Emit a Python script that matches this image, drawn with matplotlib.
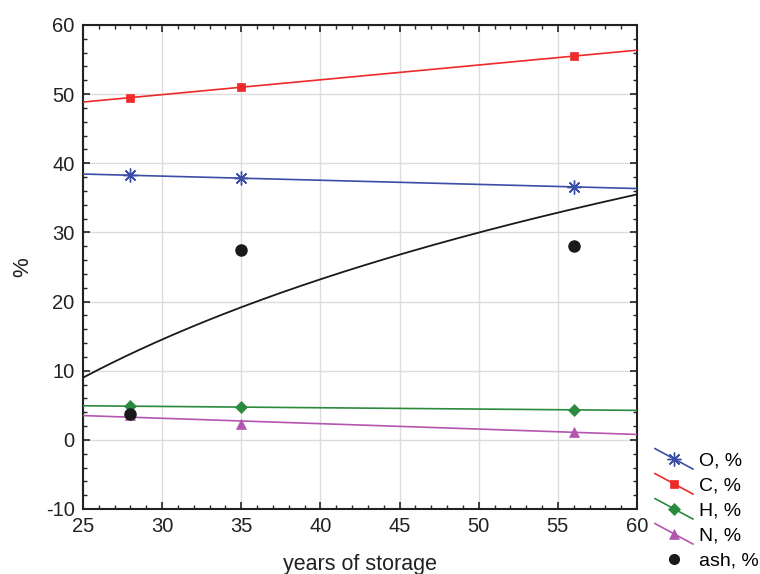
import numpy as np
import matplotlib
matplotlib.use("Agg")
import matplotlib.pyplot as plt
from matplotlib.lines import Line2D
from matplotlib.legend_handler import HandlerLine2D
from matplotlib.ticker import MultipleLocator

plt.rcParams['font.family'] = ['Liberation Sans', 'DejaVu Sans']
plt.rcParams['axes.unicode_minus'] = False

# data
years = [28, 35, 56]
O_vals = [38.3, 37.8, 36.6]
C_vals = [49.5, 51.0, 55.5]
H_vals = [4.9, 4.7, 4.35]
N_vals = [3.6, 2.3, 1.2]
ash_vals = [3.8, 27.4, 28.1]
# logarithmic trend for ash (y = a + b*ln x)
ash_trend_a = -88.44
ash_trend_b = 30.27

labels = ["O, %", "C, %", "H, %", "N, %", "ash, %"]
colors = ["#3b4ea6", "#ee2a2a", "#2b8a3e", "#b455b0", "#1a1a1a"]

fig = plt.figure(figsize=(7.6, 5.74), dpi=100)
ax = fig.add_axes([83/760, 1-509/574, (637-83)/760, (509-25)/574])

xs = np.linspace(25, 60, 200)
series = [O_vals, C_vals, H_vals, N_vals]
markers = [(8, 2, 0), 's', 'D', '^']
msizes = [10, 6, 6, 7]
handles = []
for vals, col, mk, ms, lab in zip(series, colors[:4], markers, msizes, labels[:4]):
    p = np.polyfit(years, vals, 1)
    ax.plot(xs, np.polyval(p, xs), color=col, lw=1.2, zorder=3)
    ax.plot(years, vals, linestyle='None', marker=mk, ms=ms, color=col,
            mec=col, mew=1.0 if mk == (8, 2, 0) else 0.5, zorder=4)
    handles.append(Line2D([], [], color=col, lw=1.2, marker=mk, ms=ms, mec=col,
                          mew=1.0 if mk == (8, 2, 0) else 0.5, label=lab))

ax.plot(xs, ash_trend_a + ash_trend_b*np.log(xs), color=colors[4], lw=1.3, zorder=3)
ax.plot(years, ash_vals, linestyle='None', marker='o', ms=8, color=colors[4], zorder=5)
handles.append(Line2D([], [], linestyle='None', marker='o', ms=7, color=colors[4], label=labels[4]))

ax.set_xlim(25, 60)
ax.set_ylim(-10, 60)
ax.xaxis.set_major_locator(MultipleLocator(5))
ax.xaxis.set_minor_locator(MultipleLocator(1))
ax.yaxis.set_major_locator(MultipleLocator(10))
ax.yaxis.set_minor_locator(MultipleLocator(2))
ax.tick_params(which='both', direction='in', top=True, right=True, colors='#222222')
ax.tick_params(which='major', length=5, width=1.2, labelsize=14.5, labelcolor='#222222', pad=6)
ax.tick_params(which='minor', length=3, width=1.0)
ax.grid(True, which='major', color='#dcdcdc', lw=1.0, zorder=0)
ax.set_axisbelow(True)
for s in ax.spines.values():
    s.set_linewidth(1.5)
    s.set_color('#222222')

ax.set_xlabel("years of storage", fontsize=15.5, color='#222222', labelpad=13)
ax.set_ylabel("%", fontsize=16, color='#222222', labelpad=9)


class DiagHandler(HandlerLine2D):
    def create_artists(self, legend, orig_handle, xdescent, ydescent, width, height,
                       fontsize, trans):
        x0, x1 = -xdescent, -xdescent + width
        y0, y1 = -ydescent + height*1.25, -ydescent - height*0.25
        line = Line2D([x0, x1], [y0, y1])
        self.update_prop(line, orig_handle, legend)
        line.set_marker('None')
        m = Line2D([(x0+x1)/2], [(y0+y1)/2])
        self.update_prop(m, orig_handle, legend)
        m.set_linestyle('None')
        line.set_transform(trans)
        m.set_transform(trans)
        return [line, m]


fig.legend(handles=handles, loc='upper left', bbox_to_anchor=(655/760, 1-452/574),
           frameon=False, fontsize=14, handlelength=1.95, handletextpad=0.3,
           labelspacing=0.38, borderpad=0, borderaxespad=0,
           handler_map={Line2D: DiagHandler()})

fig.savefig("out.png", dpi=100)
